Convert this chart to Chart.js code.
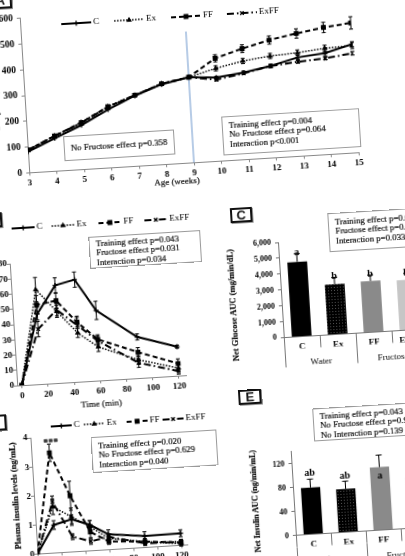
<!DOCTYPE html>
<html>
<head>
<meta charset="utf-8">
<script src="https://cdn.jsdelivr.net/npm/chart.js@4.4.1/dist/chart.umd.min.js"></script>
<style>
  html, body { margin: 0; padding: 0; background: #fff; overflow: hidden; }
  body { width: 405px; height: 556px; position: relative; font-family: "Liberation Serif", serif; color: #111; }
  #fig { position: absolute; left: 0; top: 0; width: 405px; height: 556px; transform-origin: 202.5px 278px; transform: rotate(-3.5deg); }
  #fig canvas { position: absolute; left: -40px; top: -30px; }
  .box { position: absolute; box-sizing: border-box; border: 1px solid #9a9a9a; background: #fff; font-size: 8.8px; line-height: 9.4px; padding: 4px 6px; white-space: nowrap; -webkit-text-stroke: 0.2px #111; }
  .tag { position: absolute; box-sizing: border-box; border: 2px solid #111; box-shadow: 1px 1px 0 #999; background: #fff; font: bold 13px "Liberation Sans", sans-serif; text-align: center; line-height: 12px; }
  .t { position: absolute; white-space: nowrap; transform: translate(-50%, -50%); font-size: 9px; -webkit-text-stroke: 0.2px #111; }
  .v { transform: translate(-50%, -50%) rotate(-90deg); font-weight: bold; }
</style>
</head>
<body>
<div id="fig">
  <canvas id="cA" width="490" height="630"></canvas>
  <canvas id="cB" width="490" height="630"></canvas>
  <canvas id="cC" width="490" height="630"></canvas>
  <canvas id="cD" width="490" height="630"></canvas>
  <canvas id="cE" width="490" height="630"></canvas>

  <div class="tag" style="left:6px;top:-19px;width:23px;height:16px">A</div>
  <div class="tag" style="left:-17px;top:200px;width:23px;height:15px">B</div>
  <div class="tag" style="left:234px;top:210px;width:22px;height:15px">C</div>
  <div class="tag" style="left:-25px;top:402px;width:23px;height:16px">D</div>
  <div class="tag" style="left:231px;top:392px;width:23px;height:15px">E</div>

  <div class="box" style="left:72px;top:128px;width:111px;height:25px;padding-top:7px">No Fructose effect p=0.358</div>
  <div class="box" style="left:231px;top:118px;width:138px;height:39px">Training effect p=0.004<br>No Fructose effect p=0.064<br>Interaction p&lt;0.001</div>
  <div class="box" style="left:91px;top:230px;width:112px;height:32px;padding-top:2px">Training effect p=0.043<br>Fructose effect p=0.031<br>Interaction p=0.034</div>
  <div class="box" style="left:331px;top:221px;width:110px;height:39px">Training effect p=0.002<br>Fructose effect p=0.046<br>Interaction p=0.033</div>
  <div class="box" style="left:81px;top:430px;width:126px;height:36px">Training effect p=0.020<br>No Fructose effect p=0.629<br>Interaction p=0.040</div>
  <div class="box" style="left:304px;top:415px;width:122px;height:33px;padding-top:3px">Training effect p=0.043<br>No Fructose effect p=0.912<br>No Interaction p=0.139</div>

  <div class="t" style="left:183px;top:180px">Age (weeks)</div>
  <div class="t v" style="left:6px;top:88px">Body weight (g)</div>
  <div class="t" style="left:94px;top:397px">Time (min)</div>
  <div class="t v" style="left:231px;top:307px;font-size:8.5px">Net Glucose AUC (mg/min/dL)</div>
  <div class="t v" style="left:2px;top:484px;font-size:8.5px">Plasma insulin levels (ng/mL)</div>
  <div class="t v" style="left:241px;top:504px;font-size:8px">Net Insulin AUC (ng/min/mL)</div>
  <div class="t" style="left:41px;top:432px;font-weight:bold;font-size:10px">***</div>
</div>

<script>
// groups
const groups = ['C', 'Ex', 'FF', 'ExFF'];
const drinks = ['Water', 'Fructose'];

// A: body weight (g) by age (weeks)
const weeks = [3, 4, 5, 6, 7, 8, 9, 10, 11, 12, 13, 14, 15];
const weightC    = [81, 127, 172, 226, 273, 311, 332, 324, 337, 356, 383, 393, 421];
const weightEx   = [88, 136, 182, 237, 275, 313, 332, 360, 382, 395, 401, 412, 416];
const weightFF   = [88, 136, 182, 237, 275, 313, 332, 399, 430, 457, 476, 493, 504];
const weightExFF = [88, 136, 180, 235, 274, 312, 332, 316, 334, 356, 366, 373, 386];
const weightErrC    = [0, 0, 0, 0, 0, 0, 0, 5, 6, 7, 8, 8, 10];
const weightErrEx   = [0, 0, 0, 0, 0, 0, 0, 10, 10, 10, 11, 12, 12];
const weightErrFF   = [0, 0, 0, 0, 0, 0, 0, 14, 15, 16, 18, 20, 24];
const weightErrExFF = [0, 0, 0, 0, 0, 0, 0, 5, 5, 6, 6, 6, 7];
const switchWeek = 9;

// B: glucose over time (min)
const gttMin = [0, 15, 30, 45, 60, 90, 120];
const glucoseC    = [0, 46, 64, 67, 46, 27, 19];
const glucoseEx   = [0, 62, 47, 32, 22, 12, 5];
const glucoseFF   = [0, 52, 54, 39, 27, 17, 8];
const glucoseExFF = [0, 36, 48, 37, 26, 10, 3];
const glucoseErrC    = [0, 4, 5, 5, 6, 2, 1];
const glucoseErrEx   = [0, 8, 4, 3, 3, 3, 2];
const glucoseErrFF   = [0, 6, 5, 4, 3, 3, 3];
const glucoseErrExFF = [0, 5, 4, 5, 3, 3, 2];
const minuteTicks = [0, 20, 40, 60, 80, 100, 120];

// C: net glucose AUC
const glucoseAUC = [4700, 3150, 3220, 3160];
const glucoseAUCErr = [520, 430, 380, 400];
const glucoseLetters = ['a', 'b', 'b', 'b'];

// D: plasma insulin over time
const insulinC    = [0, 0.96, 1.12, 0.89, 0.53, 0.39, 0.41];
const insulinEx   = [0, 1.59, 1.21, 0.83, 0.39, 0.2, 0.05];
const insulinFF   = [0, 3.45, 1.93, 0.65, 0.28, 0.2, 0.1];
const insulinExFF = [0, 1.76, 0.52, 0.32, 0.44, 0.14, 0.12];
const insulinErrC    = [0, 0.15, 0.15, 0.15, 0.15, 0.15, 0.12];
const insulinErrEx   = [0, 0.27, 0.3, 0.2, 0.1, 0.1, 0.08];
const insulinErrFF   = [0, 0.3, 0.5, 0.2, 0.1, 0.1, 0.1];
const insulinErrExFF = [0, 0.2, 0.1, 0.1, 0.1, 0.08, 0.08];

// E: net insulin AUC
const insulinAUC = [78, 72, 105, 85];
const insulinAUCErr = [14, 13, 20, 15];
const insulinLetters = ['ab', 'ab', 'a', 'b'];

const OX = 40, OY = 30, CW = 490, CH = 630;
Chart.defaults.font.family = 'Liberation Serif';
Chart.defaults.color = '#000';

const serif = (size, weight) => ({ family: 'Liberation Serif', size, weight: weight || 'normal' });
const AXIS = '#888';

const LOOK = [
  { borderDash: [], borderWidth: 2, pointStyle: 'cross', pointRadius: 2.5 },
  { borderDash: [1.5, 1.5], borderWidth: 1.5, pointStyle: 'triangle', pointRadius: 2 },
  { borderDash: [5, 3], borderWidth: 2, pointStyle: 'rect', pointRadius: 2.5 },
  { borderDash: [7, 3, 1.5, 3], borderWidth: 2, pointStyle: 'crossRot', pointRadius: 2.5 }
];

// chart area given in figure coords -> layout padding on the shared canvas size
function frame(a, yW, xH) {
  return {
    autoPadding: false,
    padding: { left: a.L + OX - yW, top: a.T + OY, right: CW - a.R - OX, bottom: CH - a.B - OY - xH }
  };
}

const keyPlugin = {
  id: 'key',
  afterDraw(chart, args, o) {
    if (!o || !o.xs) return;
    const ctx = chart.ctx;
    ctx.save();
    chart.data.datasets.forEach((ds, i) => {
      const x = o.xs[i] + OX, y = o.y + OY;
      ctx.strokeStyle = '#000';
      ctx.fillStyle = '#000';
      ctx.lineWidth = ds.borderWidth;
      ctx.setLineDash(ds.borderDash || []);
      ctx.beginPath();
      ctx.moveTo(x, y);
      ctx.lineTo(x + o.len, y);
      ctx.stroke();
      ctx.setLineDash([]);
      ctx.lineWidth = 1.3;
      Chart.helpers.drawPoint(ctx, { pointStyle: ds.pointStyle, radius: ds.pointRadius, borderWidth: 1.3, rotation: 0 }, x + o.len / 2, y);
      ctx.font = '9px "Liberation Serif"';
      ctx.textBaseline = 'middle';
      ctx.fillText(ds.label, x + o.len + 2, y);
    });
    ctx.restore();
  }
};

const dividerPlugin = {
  id: 'divider',
  beforeDatasetsDraw(chart, args, o) {
    if (!o || o.x == null) return;
    const { x, y } = chart.scales;
    const px = x.getPixelForValue(o.x);
    const ctx = chart.ctx;
    ctx.save();
    ctx.strokeStyle = '#86a9d6';
    ctx.lineWidth = 1.2;
    ctx.beginPath();
    ctx.moveTo(px, y.getPixelForValue(o.from));
    ctx.lineTo(px, y.getPixelForValue(o.to));
    ctx.stroke();
    ctx.restore();
  }
};

const errorBarPlugin = {
  id: 'errorBars',
  afterDatasetsDraw(chart, args, o) {
    const ctx = chart.ctx;
    ctx.save();
    ctx.strokeStyle = '#000';
    ctx.fillStyle = '#000';
    ctx.lineWidth = 1;
    chart.data.datasets.forEach((ds, i) => {
      if (!ds.errors) return;
      const meta = chart.getDatasetMeta(i);
      const ys = chart.scales[meta.yAxisID];
      const isBar = meta.type === 'bar';
      const cap = isBar ? 3 : 2;
      meta.data.forEach((el, j) => {
        const raw = ds.data[j];
        const v = typeof raw === 'object' ? raw.y : raw;
        const e = ds.errors[j];
        const top = ys.getPixelForValue(v + e);
        if (e) {
          const bot = isBar ? el.y : ys.getPixelForValue(v - e);
          ctx.beginPath();
          ctx.moveTo(el.x, top); ctx.lineTo(el.x, bot);
          ctx.moveTo(el.x - cap, top); ctx.lineTo(el.x + cap, top);
          if (!isBar) { ctx.moveTo(el.x - cap, bot); ctx.lineTo(el.x + cap, bot); }
          ctx.stroke();
        }
        if (ds.letters) {
          ctx.font = 'bold 10px "Liberation Serif"';
          ctx.textAlign = 'center';
          ctx.textBaseline = 'alphabetic';
          const inside = o.inside && o.inside[j];
          ctx.fillText(ds.letters[j], el.x, inside ? el.y + 11 : top - o.gap);
        }
      });
    });
    ctx.restore();
  }
};

function lineSets(xs, series, errors) {
  return series.map((ys, i) => Object.assign({
    label: groups[i],
    data: ys.map((y, j) => ({ x: xs[j], y })),
    errors: errors[i],
    borderColor: '#000',
    backgroundColor: '#000',
    pointBorderColor: '#000',
    pointBackgroundColor: '#000',
    pointBorderWidth: 1.3,
    tension: 0
  }, LOOK[i]));
}

function lineChart(id, xs, series, errs, opt) {
  return new Chart(document.getElementById(id), {
    type: 'line',
    data: { datasets: lineSets(xs, series, errs) },
    options: {
      responsive: false, animation: false, events: [],
      layout: frame(opt.area, opt.yW, opt.xH),
      plugins: {
        legend: { display: false }, tooltip: { enabled: false },
        key: opt.key, divider: opt.divider || {}, errorBars: {}
      },
      scales: {
        x: {
          type: 'linear', min: opt.xMin, max: opt.xMax,
          afterBuildTicks: s => { s.ticks = opt.xTicks.map(v => ({ value: v })); },
          ticks: { font: serif(9, 'bold'), color: '#000', padding: 2, maxRotation: 0 },
          grid: { drawOnChartArea: false, tickLength: 3, color: AXIS },
          border: { color: AXIS },
          afterFit: s => { s.height = opt.xH; }
        },
        y: {
          min: 0, max: opt.yMax,
          ticks: { stepSize: opt.yStep, font: serif(opt.yFont || 9, 'bold'), color: '#000', padding: opt.yPad },
          grid: { drawOnChartArea: false, tickLength: 3, color: AXIS },
          border: { color: AXIS },
          afterFit: s => { s.width = opt.yW; }
        }
      }
    },
    plugins: [keyPlugin, dividerPlugin, errorBarPlugin]
  });
}

function dotted(id) {
  const tile = document.createElement('canvas');
  tile.width = tile.height = 3;
  const g = tile.getContext('2d');
  g.fillStyle = '#000'; g.fillRect(0, 0, 3, 3);
  g.fillStyle = '#555'; g.fillRect(1, 1, 1, 1);
  return document.getElementById(id).getContext('2d').createPattern(tile, 'repeat');
}

function barChart(id, values, errs, letters, opt) {
  return new Chart(document.getElementById(id), {
    type: 'bar',
    data: {
      labels: groups,
      datasets: [{
        data: values, errors: errs, letters,
        backgroundColor: ['#000', dotted(id), '#8a8a8a', '#c6c6c6'],
        barPercentage: 0.55, categoryPercentage: 1
      }]
    },
    options: {
      responsive: false, animation: false, events: [],
      layout: frame(opt.area, 40, 36),
      plugins: {
        legend: { display: false }, tooltip: { enabled: false },
        errorBars: { gap: opt.gap, inside: opt.inside || [] }
      },
      scales: {
        x: {
          type: 'category', weight: 0, offset: true,
          grid: { offset: true, drawOnChartArea: false, tickLength: 12, color: '#777' },
          border: { color: '#777' },
          ticks: { padding: -7.5, font: serif(9, 'bold'), color: '#000', maxRotation: 0, autoSkip: false },
          afterFit: s => { s.height = 12; }
        },
        grp: {
          type: 'category', position: 'bottom', labels: drinks, weight: 1, offset: true,
          grid: { offset: true, drawOnChartArea: false, tickLength: 18, color: '#777' },
          border: { display: false },
          ticks: { padding: -9, font: serif(9), color: '#000', maxRotation: 0, autoSkip: false },
          afterFit: s => { s.height = 24; }
        },
        y: {
          min: 0, max: opt.yMax,
          ticks: { stepSize: opt.yStep, font: serif(8, 'bold'), color: '#000', padding: 4,
                   callback: v => v.toLocaleString('en-US') },
          grid: { drawOnChartArea: false, tickLength: 3, color: '#777' },
          border: { color: '#777' },
          afterFit: s => { s.width = 40; }
        }
      }
    },
    plugins: [errorBarPlugin]
  });
}

lineChart('cA', weeks,
  [weightC, weightEx, weightFF, weightExFF],
  [weightErrC, weightErrEx, weightErrFF, weightErrExFF],
  { area: { L: 36, R: 366, T: 7.7, B: 162.3 }, yW: 40, xH: 22, yPad: 4, yFont: 9.5,
    xMin: 3, xMax: 15, xTicks: weeks, yMax: 600, yStep: 100,
    key: { xs: [77, 130, 187, 243], y: 16, len: 30 },
    divider: { x: switchWeek, from: 0, to: 510 } });

lineChart('cB', gttMin,
  [glucoseC, glucoseEx, glucoseFF, glucoseExFF],
  [glucoseErrC, glucoseErrEx, glucoseErrFF, glucoseErrExFF],
  { area: { L: 11, R: 180.8, T: 252, B: 374 }, yW: 30, xH: 20, yPad: 0,
    xMin: -3.5, xMax: 126, xTicks: minuteTicks, yMax: 80, yStep: 10,
    key: { xs: [15, 55, 102, 148], y: 217, len: 23 } });

barChart('cC', glucoseAUC, glucoseAUCErr, glucoseLetters,
  { area: { L: 280, R: 424, T: 247, B: 342.4 }, yMax: 6000, yStep: 1000, gap: -2 });

lineChart('cD', gttMin,
  [insulinC, insulinEx, insulinFF, insulinExFF],
  [insulinErrC, insulinErrEx, insulinErrFF, insulinErrExFF],
  { area: { L: 21, R: 171, T: 427.1, B: 543.4 }, yW: 30, xH: 20, yPad: 0,
    xMin: 0, xMax: 125, xTicks: minuteTicks, yMax: 4, yStep: 1,
    key: { xs: [42, 75, 118, 154], y: 417, len: 21 } });

barChart('cE', insulinAUC, insulinAUCErr, insulinLetters,
  { area: { L: 280, R: 420, T: 456.5, B: 540.6 }, yMax: 140, yStep: 20, gap: 3,
    inside: [false, false, true, false] });
</script>
</body>
</html>
